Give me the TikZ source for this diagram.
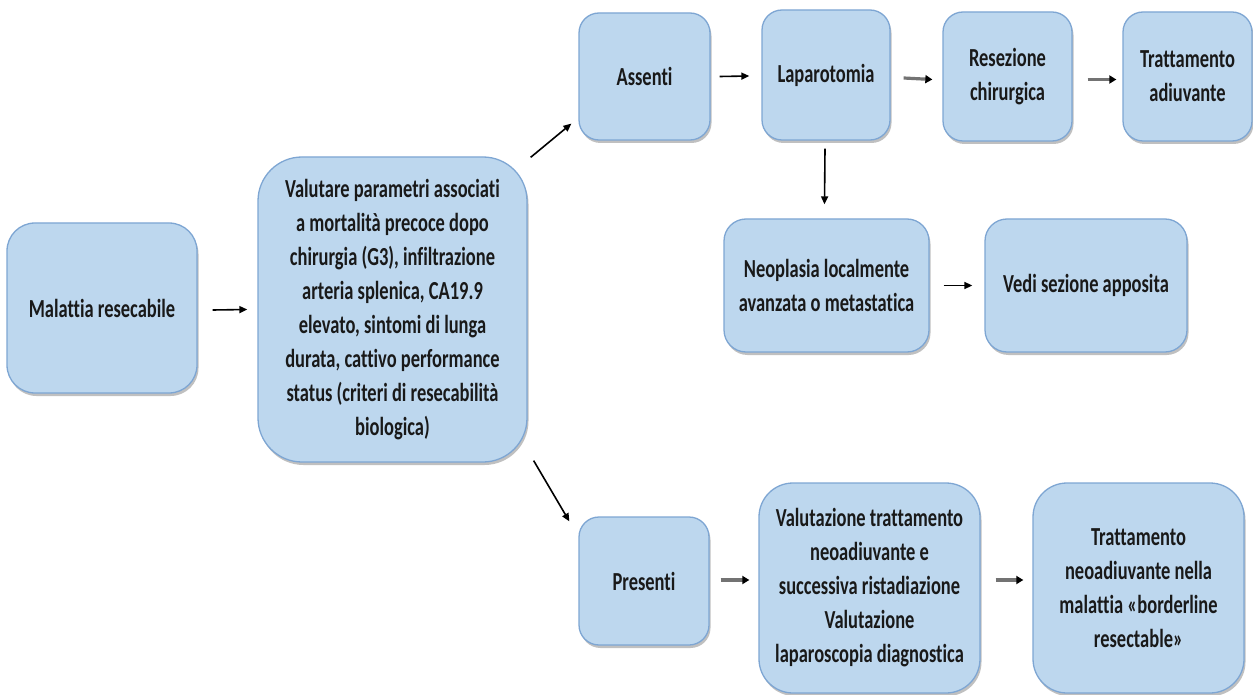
\documentclass[tikz,border=0pt]{standalone}
\usepackage{fontspec}
\newfontfamily\boxfont{Carlito}[FakeStretch=0.71, Ligatures={NoCommon}, RawFeature={-liga;-dlig}]
\usetikzlibrary{arrows.meta,shadows}
\definecolor{boxfill}{HTML}{BDD7EE}
\definecolor{boxline}{HTML}{7EA6D3}
\tikzset{
  box/.style={draw=boxline, line width=1.3pt, fill=boxfill, rounded corners=#1,
    align=center, inner sep=2pt, text=black!90,
    font=\boxfont\bfseries\fontsize{26}{34}\selectfont,
    drop shadow={shadow xshift=1.5pt, shadow yshift=-3pt, fill=black!35, opacity=0.7}},
  box/.default=20pt,
  arr/.style={draw=black, line width=1.6pt, -{Triangle[length=8pt,width=7pt]}},
  garr/.style={draw=black!55, line width=3.2pt, -{Triangle[length=7pt,width=8pt,color=black]}}
}
\begin{document}
\begin{tikzpicture}[x=1pt,y=-1pt]
\fill[white] (0,0) rectangle (1253,695);
\useasboundingbox (0,0) rectangle (1253,695);

\node[box=28pt, minimum width=190pt, minimum height=170pt] (mal) at (102,308) {Malattia resecabile};
\node[box=44pt, minimum width=269pt, minimum height=305pt] (val) at (392.5,309.5)
  {Valutare parametri associati\\a mortalità precoce dopo\\chirurgia (G3), infiltrazione\\arteria splenica, CA19.9\\elevato, sintomi di lunga\\durata, cattivo performance\\status (criteri di resecabilità\\biologica)};
\node[box, minimum width=131pt, minimum height=127pt] (ass) at (644.5,76.5) {Assenti};
\node[box, minimum width=128pt, minimum height=130pt] (lap) at (826,75) {Laparotomia};
\node[box, minimum width=129pt, minimum height=129pt] (res) at (1007.5,76.5) {Resezione\\chirurgica};
\node[box, minimum width=129pt, minimum height=129pt] (tra) at (1187.5,76.5) {Trattamento\\adiuvante};
\node[box=22pt, minimum width=205pt, minimum height=133pt] (neo) at (826.5,285.5) {Neoplasia localmente\\avanzata o metastatica};
\node[box=22pt, minimum width=202pt, minimum height=133pt] (ved) at (1086,285.5) {Vedi sezione apposita};
\node[box, minimum width=130pt, minimum height=128pt] (pre) at (644,581) {Presenti};
\node[box=34pt, minimum width=221pt, minimum height=210pt] (vtz) at (869.5,588)
  {Valutazione trattamento\\neoadiuvante e\\successiva ristadiazione\\Valutazione\\laparoscopia diagnostica};
\node[box=34pt, minimum width=211pt, minimum height=210pt] (tnb) at (1138.5,588)
  {Trattamento\\neoadiuvante nella\\malattia «borderline\\resectable»};

\draw[arr] ([shift={(15,2)}]mal.east) -- ([shift={(-10,0)}]val.west);
\draw[arr] ([shift={(3,1)}]val.north east) -- ([shift={(-7,-17)}]ass.south west);
\draw[arr] ([shift={(6,-2)}]val.south east) -- ([shift={(-9,5)}]pre.north west);
\draw[arr] ([shift={(9,0)}]ass.east) -- ([shift={(-12,1)}]lap.west);
\draw[garr] ([shift={(13,3)}]lap.east) -- ([shift={(-10,3)}]res.west);
\draw[garr] ([shift={(15,3)}]res.east) -- ([shift={(-6,3)}]tra.west);
\draw[arr] ([shift={(-1,8)}]lap.south) -- ([shift={(-2,-14)}]neo.north);
\draw[arr] ([shift={(14,0)}]neo.east) -- ([shift={(-12,0)}]ved.west);
\draw[garr] ([shift={(11,-1)}]pre.east) -- ([shift={(-9,-8)}]vtz.west);
\draw[garr] ([shift={(15,-8)}]vtz.east) -- ([shift={(-9,-8)}]tnb.west);
\end{tikzpicture}
\end{document}
